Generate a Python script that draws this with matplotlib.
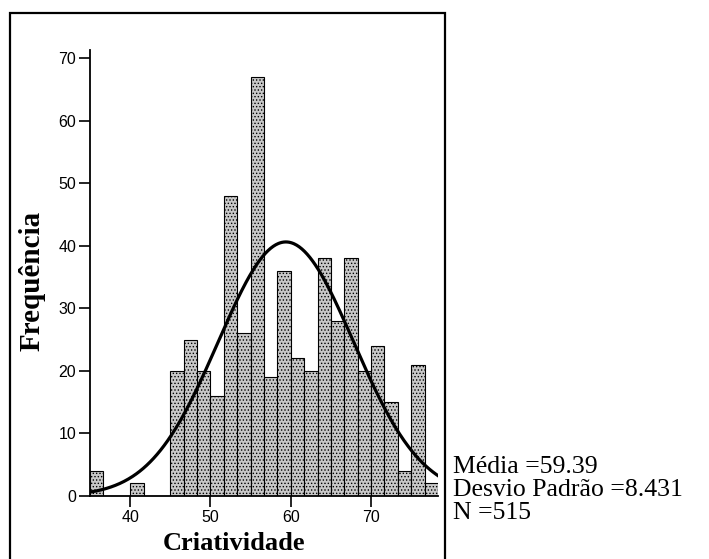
import numpy as np
import matplotlib
matplotlib.use('Agg')
import matplotlib.pyplot as plt
from matplotlib.patches import Rectangle

# histogram of creativity scores, bins of 5/3 points starting at 35
bin_start = 35.0
bin_width = 5.0 / 3.0
counts = [4, 0, 0, 2, 0, 0,
          20, 25, 20, 16, 48, 26, 67, 19, 36, 22,
          20, 38, 28, 38, 20, 24, 15, 4, 21, 2]
media = 59.39
desvio = 8.431
n_total = 515

edges = bin_start + bin_width * np.arange(len(counts) + 1)
lefts = edges[:-1]

plt.rcParams['hatch.color'] = '#8c8c8c'
plt.rcParams['hatch.linewidth'] = 0.6

fig = plt.figure(figsize=(7.09, 5.59), dpi=100)
ax = fig.add_axes([90 / 709, 63 / 559, 348 / 709, 446 / 559])

ax.bar(lefts, counts, width=bin_width, align='edge',
       color='#c8c8c8', edgecolor='black', linewidth=0.8, hatch='.....')

xs = np.linspace(edges[0], edges[-1], 400)
ys = n_total * bin_width / (desvio * np.sqrt(2 * np.pi)) * np.exp(-0.5 * ((xs - media) / desvio) ** 2)
ax.plot(xs, ys, color='black', linewidth=2.3)

ax.set_xlim(edges[0], edges[-1])
ax.set_ylim(0, 71.3)
ax.set_xticks([40, 50, 60, 70])
ax.set_yticks(range(0, 71, 10))
for s in ['top', 'right']:
    ax.spines[s].set_visible(False)
for s in ['left', 'bottom']:
    ax.spines[s].set_linewidth(1.3)
ax.tick_params(axis='both', direction='out', length=8, width=1.2,
               labelsize=11.5, pad=2)
for lbl in ax.get_xticklabels() + ax.get_yticklabels():
    lbl.set_fontfamily('Liberation Sans')

ax.set_xlabel('Criatividade', fontfamily='Liberation Serif', fontweight='bold',
              fontsize=19)
ax.set_ylabel('Frequência', fontfamily='Liberation Serif', fontweight='bold',
              fontsize=21)
ax.xaxis.set_label_coords((234 - 90) / 348, -(550 - 496) / 446, transform=ax.transAxes)
ax.xaxis.label.set_va('baseline')
ax.yaxis.set_label_coords(-(90 - 32) / 348, (559 - 281 - 63) / 446, transform=ax.transAxes)
ax.yaxis.label.set_va('center')

# outer frame around the plot
fig.patches.append(Rectangle((10 / 709, -0.02), 435 / 709, 0.02 + 546 / 559,
                             transform=fig.transFigure, fill=False,
                             edgecolor='black', linewidth=1.6))

stats = ['Média =%.2f' % media, 'Desvio Padrão =%.3f' % desvio, 'N =%d' % n_total]
for i, t in enumerate(stats):
    fig.text(453 / 709, 1 - (467 + 23 * i) / 559, t, fontfamily='Liberation Serif',
             fontsize=18.5, va='center', ha='left')

fig.savefig('out.png', dpi=100)
